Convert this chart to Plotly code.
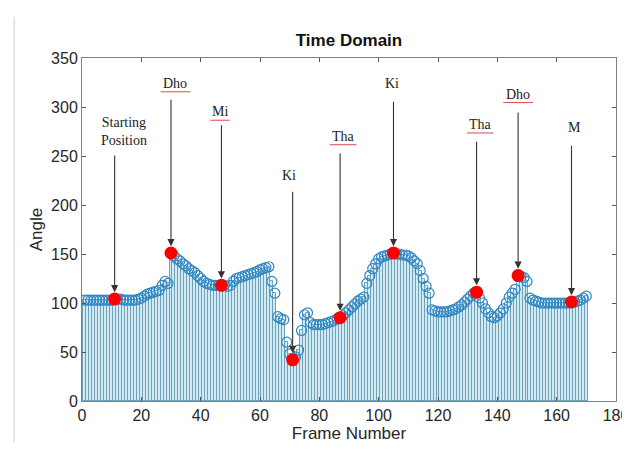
import plotly.graph_objects as go

frames = list(range(1, 171))
angle = [
    103, 103, 103, 103, 103, 103, 103, 103, 103, 103,   # 1-10
    104, 104, 104, 103, 103, 103, 103, 103, 104, 105,   # 11-20
    107, 109, 110, 111, 112, 113, 118, 122, 120, 151,   # 21-30
    148, 145, 143, 140, 138, 135, 133, 131, 128, 125,   # 31-40
    122, 120, 119, 118, 118, 118, 118, 118, 117, 118,   # 41-50
    122, 125, 126, 127, 128, 129, 130, 131, 132, 134,   # 51-60
    135, 136, 137, 122, 110, 86, 84, 83, 60, 48,        # 61-70
    42, 45, 52, 72, 88, 90, 80, 78, 78, 78,             # 71-80
    78, 79, 80, 81, 82, 84, 85, 87, 90, 93,             # 81-90
    96, 99, 102, 104, 106, 120, 128, 135, 140, 145,     # 91-100
    147, 148, 149, 150, 151, 150, 150, 149, 149, 148,   # 101-110
    146, 143, 140, 133, 125, 117, 110, 93, 92, 91,      # 111-120
    91, 91, 91, 92, 93, 94, 96, 98, 101, 104,           # 121-130
    107, 110, 111, 105, 100, 94, 90, 86, 85, 87,        # 131-140
    90, 94, 100, 106, 110, 114, 128, 127, 126, 122,     # 141-150
    105, 103, 102, 101, 100, 100, 100, 100, 100, 100,   # 151-160
    100, 100, 100, 100, 101, 101, 102, 103, 105, 107,   # 161-170
]

key_frames = [11, 30, 47, 71, 87, 105, 133, 147, 165]
key_labels = ["Starting<br>Position", "Dho", "Mi", "Ki", "Tha", "Ki", "Tha", "Dho", "M"]
label_x = [14.3, 31.5, 46.5, 69.8, 88, 104.5, 134.2, 147, 166]
label_y = [275, 324, 295, 230, 270, 324, 282, 313, 279]
arrow_tail = [252, 309, 283, 215, 254, 307, 266, 296, 262]
underlined = [False, True, True, False, True, False, True, True, False]
underline_w = [0, 10, 6.5, 0, 9, 0, 9, 10, 0]

key_vals = [angle[f - 1] for f in key_frames]

fig = go.Figure()

fig.add_trace(go.Bar(
    x=frames, y=angle, width=1.0,
    marker=dict(color="#d4eaf1", line=dict(color="#6aa2bd", width=1)),
    hoverinfo="skip", showlegend=False,
))
fig.add_trace(go.Scatter(
    x=frames, y=angle, mode="markers",
    marker=dict(symbol="circle-open", size=10, color="#2f86c3", line=dict(width=1.2)),
    showlegend=False,
))
fig.add_trace(go.Scatter(
    x=key_frames, y=key_vals, mode="markers",
    marker=dict(symbol="circle", size=13, color="#ff0000"),
    showlegend=False,
))

annotations = []
shapes = []
for f, v, lab, lx, ly, tail, ul, uw in zip(key_frames, key_vals, key_labels, label_x,
                                           label_y, arrow_tail, underlined, underline_w):
    annotations.append(dict(
        x=f, y=v + 7, ax=f, ay=tail, xref="x", yref="y", axref="x", ayref="y",
        text="", showarrow=True, arrowhead=2, arrowsize=1.3, arrowwidth=1.1,
        arrowcolor="#333333",
    ))
    annotations.append(dict(
        x=lx, y=ly, xref="x", yref="y", text=lab, showarrow=False,
        font=dict(family="Liberation Serif", size=14, color="#222222"),
    ))
    if ul:
        shapes.append(dict(type="line", xref="x", yref="y",
                           x0=lx - uw / 2, x1=lx + uw / 2, y0=ly - 8.5, y1=ly - 8.5,
                           line=dict(color="#e04848", width=1)))

shapes.append(dict(type="line", xref="paper", yref="paper",
                   x0=-0.127, x1=-0.127, y0=-0.12, y1=1.12,
                   line=dict(color="#e6e6e6", width=2)))

fig.update_layout(
    width=622, height=442,
    margin=dict(l=74, r=14, t=50, b=49, autoexpand=False),
    paper_bgcolor="white", plot_bgcolor="white",
    bargap=0,
    title=dict(text="<b>Time Domain</b>", x=0.5, xref="paper", y=0.928, yref="container",
               xanchor="center", yanchor="middle",
               font=dict(family="Liberation Sans", size=17, color="#111111")),
    font=dict(family="Liberation Sans", size=16, color="#262626"),
    annotations=annotations,
    shapes=shapes,
)
fig.update_xaxes(
    range=[0, 180], tickmode="linear", tick0=0, dtick=20,
    ticks="inside", ticklen=4, tickcolor="#555555",
    showline=True, linecolor="#808080", linewidth=1, mirror="ticks",
    showgrid=False, zeroline=False, automargin=False,
    title=dict(text="Frame Number", standoff=2, font=dict(size=17)),
)
fig.update_yaxes(
    range=[0, 350], tickmode="linear", tick0=0, dtick=50,
    ticks="inside", ticklen=4, tickcolor="#555555",
    showline=True, linecolor="#808080", linewidth=1, mirror="ticks",
    showgrid=False, zeroline=False, automargin=False,
    title=dict(text="Angle", standoff=4, font=dict(size=17)),
)

fig.write_html("out.html")
